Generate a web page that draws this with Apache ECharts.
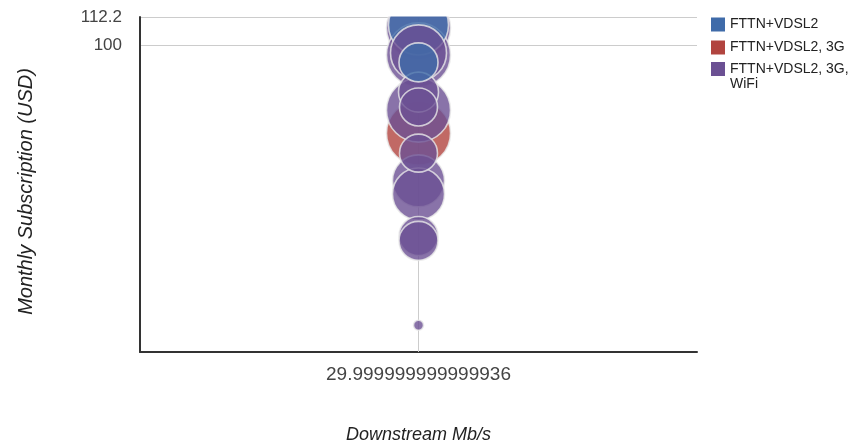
<!DOCTYPE html>
<html><head><meta charset="utf-8">
<script src="https://cdn.jsdelivr.net/npm/echarts@6/dist/echarts.min.js"></script>
<style>html,body{margin:0;padding:0;background:#fff}#c{width:854px;height:446px}</style>
</head><body><div id="c"></div>
<script>
// ---- data ----
const xCategories = ['29.999999999999936'];
const yTickLabels = [100, 112.2];
const yMin = 28.3, yMax = 112.2;
const seriesNames = ['FTTN+VDSL2', 'FTTN+VDSL2, 3G', 'FTTN+VDSL2, 3G, WiFi'];
const blueY = [108.6, 93.1];
const blueSize = [30, 19.5];
const redY = [69.6];
const redSize = [32];
const purpleY = [107.2, 96.0, 96.8, 82.4, 77.5, 76.5, 64.1, 57.2, 54.2, 45.6, 44.7, 31.6];
const purpleSize = [32, 32, 28, 20, 19, 32, 19, 26, 26, 19.5, 19.5, 5];

// ---- styles ----
const colors = ['#3f6ba9', '#b1443f', '#6b5093'];
const FONT = '"Liberation Sans", Arial, sans-serif';

const groups = [[blueY, blueSize], [redY, redSize], [purpleY, purpleSize]];
let points = [];
groups.forEach((g, gi) => {
  g[0].forEach((y, i) => points.push({gi, y, s: g[1][i], order: points.length}));
});
// larger bubbles drawn first, smaller on top
points.sort((a, b) => (b.s - a.s) || (a.order - b.order));

const series = [{
  type: 'scatter', name: '__grid', data: [], z: 1, silent: true,
  markLine: {
    z: 1, silent: true, symbol: 'none', animation: false,
    label: {show: false},
    lineStyle: {color: '#cccccc', width: 1, type: 'solid'},
    emphasis: {disabled: true},
    data: [{xAxis: xCategories[0]}]
  }
}];
points.forEach(p => {
  series.push({
    type: 'scatter',
    name: seriesNames[p.gi],
    z: 3,
    animation: false,
    data: [[xCategories[0], p.y, p.s]],
    symbolSize: v => v[2] * 2,
    itemStyle: {color: colors[p.gi], opacity: 0.8, borderColor: '#e8e8e8', borderWidth: 1.6},
    emphasis: {disabled: true}
  });
});

const legendItem = i => ({name: seriesNames[i], itemStyle: {color: colors[i], opacity: 1, borderWidth: 0}});
const legendBase = {
  orient: 'vertical', left: 711, padding: 0, itemWidth: 14, itemHeight: 14, itemGap: 8,
  icon: 'rect', selectedMode: false,
  textStyle: {fontFamily: FONT, fontSize: 14, color: '#222', lineHeight: 15}
};

const option = {
  animation: false,
  backgroundColor: '#fff',
  grid: {left: 140, right: 157, top: 17, bottom: 94, containLabel: false, outerBoundsMode: 'none'},
  legend: [
    Object.assign({}, legendBase, {top: 17, data: [legendItem(0), legendItem(1)]}),
    Object.assign({}, legendBase, {
      top: 46.5, data: [legendItem(2)],
      // leading blank line keeps the first text line level with the icon
      formatter: n => '\n' + n.replace('3G, ', '3G,\n')
    })
  ],
  xAxis: {
    type: 'category', data: xCategories, boundaryGap: true,
    axisLine: {lineStyle: {color: '#333', width: 2}},
    axisTick: {show: false},
    splitLine: {show: false},
    axisLabel: {fontFamily: FONT, fontSize: 19, color: '#444', margin: 13},
    name: 'Downstream Mb/s', nameLocation: 'middle', nameGap: 74,
    nameTextStyle: {fontFamily: FONT, fontSize: 18, fontStyle: 'italic', color: '#222'}
  },
  yAxis: {
    type: 'log', logBase: 10, min: yMin, max: yMax,
    axisLine: {show: true, lineStyle: {color: '#333', width: 2}},
    axisTick: {show: false},
    splitLine: {show: true, lineStyle: {color: '#cccccc', width: 1}},
    axisLabel: {
      fontFamily: FONT, fontSize: 17, color: '#444', margin: 18,
      formatter: v => {
        const hit = yTickLabels.find(t => Math.abs(t - v) < 0.01);
        return hit === undefined ? '' : String(hit);
      }
    },
    name: 'Monthly Subscription (USD)', nameLocation: 'middle', nameGap: 104,
    nameTextStyle: {fontFamily: FONT, fontSize: 20, fontStyle: 'italic', color: '#222', padding: [0, 14, 0, 0]}
  },
  graphic: [{
    type: 'rect', z: 100, silent: true,
    shape: {x: 141, y: 0, width: 556, height: 16.5},
    style: {fill: '#fff'}
  }],
  series
};
const chart = echarts.init(document.getElementById('c'), null, {renderer: 'canvas'});
chart.setOption(option);
</script>
</body></html>
